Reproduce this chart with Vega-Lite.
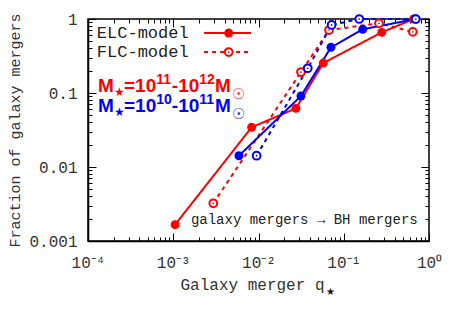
{
  "$schema": "https://vega.github.io/schema/vega-lite/v6.json",
  "width": 341,
  "height": 222,
  "autosize": {"type": "none"},
  "padding": {"left": 88, "top": 19, "right": 29, "bottom": 80},
  "background": "white",
  "config": {
    "view": {"stroke": "black", "strokeWidth": 1.5},
    "axis": {
      "domainColor": "black",
      "domainWidth": 1.5,
      "tickColor": "black",
      "labelFont": "Liberation Mono",
      "labelFontSize": 16,
      "labelColor": "#333333",
      "titleFont": "Liberation Mono",
      "titleFontWeight": "normal",
      "titleColor": "#333333",
      "grid": false
    }
  },
  "datasets": {
    "curves": [
      {"group": "high", "model": "ELC", "q": 0.00105, "f": 0.00166},
      {"group": "high", "model": "ELC", "q": 0.0083, "f": 0.0344},
      {"group": "high", "model": "ELC", "q": 0.0275, "f": 0.062},
      {"group": "high", "model": "ELC", "q": 0.0575, "f": 0.254},
      {"group": "high", "model": "ELC", "q": 0.279, "f": 0.66},
      {"group": "high", "model": "ELC", "q": 0.66, "f": 1.0},
      {"group": "high", "model": "FLC", "q": 0.00295, "f": 0.00323},
      {"group": "high", "model": "FLC", "q": 0.0315, "f": 0.192},
      {"group": "high", "model": "FLC", "q": 0.0672, "f": 0.71},
      {"group": "high", "model": "FLC", "q": 0.259, "f": 0.875},
      {"group": "high", "model": "FLC", "q": 0.646, "f": 0.67},
      {"group": "low", "model": "ELC", "q": 0.0059, "f": 0.0142},
      {"group": "low", "model": "ELC", "q": 0.0315, "f": 0.091},
      {"group": "low", "model": "ELC", "q": 0.0708, "f": 0.414},
      {"group": "low", "model": "ELC", "q": 0.167, "f": 0.726},
      {"group": "low", "model": "ELC", "q": 0.70, "f": 1.0},
      {"group": "low", "model": "FLC", "q": 0.0095, "f": 0.0142},
      {"group": "low", "model": "FLC", "q": 0.0378, "f": 0.216},
      {"group": "low", "model": "FLC", "q": 0.072, "f": 0.83},
      {"group": "low", "model": "FLC", "q": 0.152, "f": 1.0},
      {"group": "low", "model": "FLC", "q": 0.70, "f": 1.0}
    ],
    "legendLines": [
      {"model": "ELC", "x": 0.0023, "y": 0.647},
      {"model": "ELC", "x": 0.00817, "y": 0.647},
      {"model": "FLC", "x": 0.0023, "y": 0.358},
      {"model": "FLC", "x": 0.00817, "y": 0.358}
    ],
    "legendMarks": [
      {"model": "ELC", "x": 0.00447, "y": 0.647},
      {"model": "FLC", "x": 0.00447, "y": 0.358}
    ],
    "legendText": [
      {"label": "ELC-model", "x": 0.000127, "y": 0.647},
      {"label": "FLC-model", "x": 0.000127, "y": 0.358}
    ],
    "notesMain": [
      {"group": "high", "label": "M", "x": 0.000131, "y": 0.1034},
      {"group": "high", "label": "=10", "x": 0.0002645, "y": 0.1034},
      {"group": "high", "label": "-10", "x": 0.000962, "y": 0.1034},
      {"group": "high", "label": "M", "x": 0.00308, "y": 0.1034},
      {"group": "low", "label": "M", "x": 0.000131, "y": 0.0553},
      {"group": "low", "label": "=10", "x": 0.0002645, "y": 0.0553},
      {"group": "low", "label": "-10", "x": 0.000962, "y": 0.0553},
      {"group": "low", "label": "M", "x": 0.00308, "y": 0.0553}
    ],
    "notesSup": [
      {"group": "high", "label": "11", "x": 0.000631, "y": 0.1034},
      {"group": "high", "label": "12", "x": 0.002021, "y": 0.1034},
      {"group": "low", "label": "10", "x": 0.000631, "y": 0.0553},
      {"group": "low", "label": "11", "x": 0.002021, "y": 0.0553}
    ],
    "notesSub": [
      {"group": "high", "label": "★", "x": 0.000202, "y": 0.1034},
      {"group": "low", "label": "★", "x": 0.000202, "y": 0.0553}
    ],
    "notesSun": [
      {"group": "high", "label": "☉", "x": 0.00489, "y": 0.1034},
      {"group": "low", "label": "☉", "x": 0.00489, "y": 0.0553}
    ],
    "caption": [
      {"label": "galaxy mergers → BH mergers", "x": 0.00161, "y": 0.00192}
    ],
    "titleStar": [
      {"label": "★", "x": 0.062, "y": 0.000205}
    ]
  },
  "layer": [
    {
      "data": {"name": "curves"},
      "mark": {"type": "line", "strokeWidth": 2},
      "encoding": {
        "x": {
          "field": "q", "type": "quantitative",
          "scale": {"type": "log", "domain": [0.0001, 1], "nice": false},
          "axis": {
            "orient": "bottom",
            "title": "Galaxy merger q",
            "titleFontSize": 16,
            "titlePadding": 2,
            "titleX": 164,
            "values": [0.0001, 0.0002, 0.0003, 0.0004, 0.0005, 0.0006, 0.0007, 0.0008, 0.0009, 0.001, 0.002, 0.003, 0.004, 0.005, 0.006, 0.007, 0.008, 0.009, 0.01, 0.02, 0.03, 0.04, 0.05, 0.06, 0.07, 0.08, 0.09, 0.1, 0.2, 0.3, 0.4, 0.5, 0.6, 0.7, 0.8, 0.9, 1],
            "labelExpr": "abs(log(datum.value)/LN10 - round(log(datum.value)/LN10)) < 1e-6 ? ['10⁻⁴','10⁻³','10⁻²','10⁻¹','10⁰'][round(log(datum.value)/LN10)+4] : ''",
            "tickSize": {"condition": {"test": "abs(log(datum.value)/LN10 - round(log(datum.value)/LN10)) < 1e-6", "value": -8}, "value": -4},
            "labelPadding": 21,
            "labelFlush": false,
            "labelOverlap": false
          }
        },
        "y": {
          "field": "f", "type": "quantitative",
          "scale": {"type": "log", "domain": [0.001, 1], "nice": false},
          "axis": {
            "orient": "left",
            "title": "Fraction of galaxy mergers",
            "titleFontSize": 15,
            "titlePadding": 6,
            "values": [0.001, 0.002, 0.003, 0.004, 0.005, 0.006, 0.007, 0.008, 0.009, 0.01, 0.02, 0.03, 0.04, 0.05, 0.06, 0.07, 0.08, 0.09, 0.1, 0.2, 0.3, 0.4, 0.5, 0.6, 0.7, 0.8, 0.9, 1],
            "labelExpr": "abs(log(datum.value)/LN10 - round(log(datum.value)/LN10)) < 1e-6 ? datum.value + '' : ''",
            "tickSize": {"condition": {"test": "abs(log(datum.value)/LN10 - round(log(datum.value)/LN10)) < 1e-6", "value": -8}, "value": -4},
            "labelPadding": 19,
            "labelFlush": false,
            "labelOverlap": false
          }
        },
        "color": {"field": "group", "type": "nominal", "scale": {"domain": ["high", "low"], "range": ["#ff0000", "#0000ff"]}, "legend": null},
        "strokeDash": {"field": "model", "type": "nominal", "scale": {"domain": ["ELC", "FLC"], "range": [[1, 0], [4, 4]]}, "legend": null}
      }
    },
    {
      "data": {"name": "curves"},
      "transform": [{"filter": "datum.model === 'ELC'"}],
      "mark": {"type": "point", "filled": true, "shape": "circle", "size": 80, "opacity": 1},
      "encoding": {
        "x": {"field": "q", "type": "quantitative", "axis": null},
        "y": {"field": "f", "type": "quantitative", "axis": null},
        "color": {"field": "group", "type": "nominal", "legend": null}
      }
    },
    {
      "data": {"name": "curves"},
      "transform": [{"filter": "datum.model === 'FLC'"}],
      "mark": {"type": "point", "filled": false, "fill": "white", "fillOpacity": 1, "shape": "circle", "size": 60, "strokeWidth": 2, "opacity": 1},
      "encoding": {
        "x": {"field": "q", "type": "quantitative", "axis": null},
        "y": {"field": "f", "type": "quantitative", "axis": null},
        "color": {"field": "group", "type": "nominal", "legend": null}
      }
    },
    {
      "data": {"name": "curves"},
      "transform": [{"filter": "datum.model === 'FLC'"}],
      "mark": {"type": "point", "filled": true, "shape": "circle", "size": 3, "opacity": 1},
      "encoding": {
        "x": {"field": "q", "type": "quantitative", "axis": null},
        "y": {"field": "f", "type": "quantitative", "axis": null},
        "color": {"field": "group", "type": "nominal", "legend": null}
      }
    },
    {
      "data": {"name": "legendLines"},
      "mark": {"type": "line", "strokeWidth": 2, "color": "#ff0000"},
      "encoding": {
        "x": {
          "field": "x", "type": "quantitative",
          "axis": {
            "orient": "top", "title": null, "labels": false, "domain": false,
            "values": [0.0001, 0.0002, 0.0003, 0.0004, 0.0005, 0.0006, 0.0007, 0.0008, 0.0009, 0.001, 0.002, 0.003, 0.004, 0.005, 0.006, 0.007, 0.008, 0.009, 0.01, 0.02, 0.03, 0.04, 0.05, 0.06, 0.07, 0.08, 0.09, 0.1, 0.2, 0.3, 0.4, 0.5, 0.6, 0.7, 0.8, 0.9, 1],
            "tickSize": {"condition": {"test": "abs(log(datum.value)/LN10 - round(log(datum.value)/LN10)) < 1e-6", "value": -8}, "value": -4}
          }
        },
        "y": {
          "field": "y", "type": "quantitative",
          "axis": {
            "orient": "right", "title": null, "labels": false, "domain": false,
            "values": [0.001, 0.002, 0.003, 0.004, 0.005, 0.006, 0.007, 0.008, 0.009, 0.01, 0.02, 0.03, 0.04, 0.05, 0.06, 0.07, 0.08, 0.09, 0.1, 0.2, 0.3, 0.4, 0.5, 0.6, 0.7, 0.8, 0.9, 1],
            "tickSize": {"condition": {"test": "abs(log(datum.value)/LN10 - round(log(datum.value)/LN10)) < 1e-6", "value": -8}, "value": -4}
          }
        },
        "strokeDash": {"field": "model", "type": "nominal", "legend": null}
      }
    },
    {
      "data": {"name": "legendMarks"},
      "transform": [{"filter": "datum.model === 'ELC'"}],
      "mark": {"type": "point", "filled": true, "shape": "circle", "size": 80, "opacity": 1, "color": "#ff0000"},
      "encoding": {
        "x": {"field": "x", "type": "quantitative", "axis": null},
        "y": {"field": "y", "type": "quantitative", "axis": null}
      }
    },
    {
      "data": {"name": "legendMarks"},
      "transform": [{"filter": "datum.model === 'FLC'"}],
      "mark": {"type": "point", "filled": false, "fill": "white", "fillOpacity": 1, "shape": "circle", "size": 60, "strokeWidth": 2, "opacity": 1, "color": "#ff0000"},
      "encoding": {
        "x": {"field": "x", "type": "quantitative", "axis": null},
        "y": {"field": "y", "type": "quantitative", "axis": null}
      }
    },
    {
      "data": {"name": "legendMarks"},
      "transform": [{"filter": "datum.model === 'FLC'"}],
      "mark": {"type": "point", "filled": true, "shape": "circle", "size": 3, "opacity": 1, "color": "#ff0000"},
      "encoding": {
        "x": {"field": "x", "type": "quantitative", "axis": null},
        "y": {"field": "y", "type": "quantitative", "axis": null}
      }
    },
    {
      "data": {"name": "legendText"},
      "mark": {"type": "text", "font": "Liberation Mono", "fontSize": 17, "align": "left", "baseline": "middle", "color": "#222222"},
      "encoding": {
        "x": {"field": "x", "type": "quantitative", "axis": null},
        "y": {"field": "y", "type": "quantitative", "axis": null},
        "text": {"field": "label"}
      }
    },
    {
      "data": {"name": "notesMain"},
      "mark": {"type": "text", "font": "Liberation Sans", "fontSize": 19, "fontWeight": "bold", "align": "left", "baseline": "alphabetic"},
      "encoding": {
        "x": {"field": "x", "type": "quantitative", "axis": null},
        "y": {"field": "y", "type": "quantitative", "axis": null},
        "text": {"field": "label"},
        "color": {"field": "group", "type": "nominal", "legend": null}
      }
    },
    {
      "data": {"name": "notesSup"},
      "mark": {"type": "text", "font": "Liberation Sans", "fontSize": 14, "fontWeight": "bold", "align": "left", "baseline": "alphabetic", "dy": -8},
      "encoding": {
        "x": {"field": "x", "type": "quantitative", "axis": null},
        "y": {"field": "y", "type": "quantitative", "axis": null},
        "text": {"field": "label"},
        "color": {"field": "group", "type": "nominal", "legend": null}
      }
    },
    {
      "data": {"name": "notesSub"},
      "mark": {"type": "text", "font": "DejaVu Sans", "fontSize": 12, "align": "left", "baseline": "alphabetic", "dy": 4},
      "encoding": {
        "x": {"field": "x", "type": "quantitative", "axis": null},
        "y": {"field": "y", "type": "quantitative", "axis": null},
        "text": {"field": "label"},
        "color": {"field": "group", "type": "nominal", "legend": null}
      }
    },
    {
      "data": {"name": "notesSun"},
      "mark": {"type": "text", "font": "DejaVu Sans", "fontSize": 15, "align": "left", "baseline": "alphabetic", "dy": 7, "opacity": 0.8},
      "encoding": {
        "x": {"field": "x", "type": "quantitative", "axis": null},
        "y": {"field": "y", "type": "quantitative", "axis": null},
        "text": {"field": "label"},
        "color": {"field": "group", "type": "nominal", "legend": null}
      }
    },
    {
      "data": {"name": "caption"},
      "mark": {"type": "text", "font": "Liberation Mono", "fontSize": 14, "align": "left", "baseline": "middle", "color": "#222222"},
      "encoding": {
        "x": {"field": "x", "type": "quantitative", "axis": null},
        "y": {"field": "y", "type": "quantitative", "axis": null},
        "text": {"field": "label"}
      }
    },
    {
      "data": {"name": "titleStar"},
      "mark": {"type": "text", "font": "DejaVu Sans", "fontSize": 10, "align": "left", "baseline": "middle", "color": "#111111"},
      "encoding": {
        "x": {"field": "x", "type": "quantitative", "axis": null},
        "y": {"field": "y", "type": "quantitative", "axis": null},
        "text": {"field": "label"}
      }
    }
  ],
  "resolve": {"axis": {"x": "independent", "y": "independent"}}
}
